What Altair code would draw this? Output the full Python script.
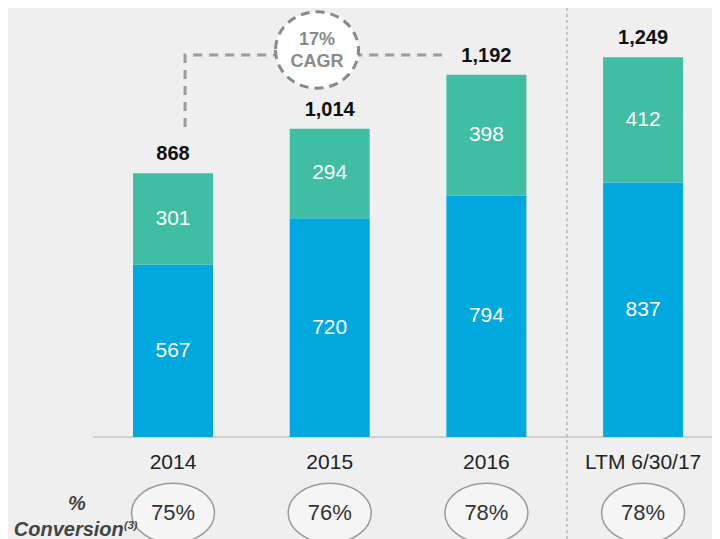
import altair as alt
import pandas as pd

# ---- data ----
categories = ["2014", "2015", "2016", "LTM 6/30/17"]
blue_vals = [567, 720, 794, 837]
teal_vals = [301, 294, 398, 412]
totals = [868, 1014, 1192, 1249]
conversion = ["75%", "76%", "78%", "78%"]
cagr_lines = ["17%", "CAGR"]

BLUE = "#00a8de"
TEAL = "#40bea4"
BG = "#efefef"
FONT = "Liberation Sans"

W, H = 704, 531
xs = alt.Scale(domain=[-1.053, 3.4397], nice=False, zero=False, padding=0)
ys = alt.Scale(domain=[-335.5, 1411.2], nice=False, zero=False, padding=0)

rows = []
for i, (c, b, t) in enumerate(zip(categories, blue_vals, teal_vals)):
    rows.append(dict(pos=i, cat=c, seg="blue", start=0, end=b, mid=b / 2, val=b))
    rows.append(dict(pos=i, cat=c, seg="teal", start=b, end=b + t, mid=b + t / 2, val=t))
bars_df = pd.DataFrame(rows)

cat_df = pd.DataFrame(dict(pos=list(range(len(categories))), cat=categories,
                           total=totals, conv=conversion))

X = alt.X("pos:Q", scale=xs, axis=None)

# annotation geometry (in data units)
base_df = pd.DataFrame(dict(x1=[-0.51], x2=[3.44], y0=[0]))
baseline = alt.Chart(base_df).mark_rule(color="#c4c4c4", strokeWidth=1.5).encode(
    x=alt.X("x1:Q", scale=xs, axis=None), x2="x2:Q", y=alt.Y("y0:Q", scale=ys, axis=None)
)

sep_df = pd.DataFrame(dict(sx=[2.514], sy1=[-335.5], sy2=[1411.2]))
separator = alt.Chart(sep_df).mark_rule(color="#a8a8a8", strokeWidth=1.2, strokeDash=[3, 3]).encode(
    x=alt.X("sx:Q", scale=xs, axis=None), y=alt.Y("sy1:Q", scale=ys, axis=None), y2="sy2:Q"
)

bracket_df = pd.DataFrame(dict(bx=[0.077, 0.077, 1.717], by=[1020, 1256.6, 1256.6], o=[0, 1, 2]))
bracket = alt.Chart(bracket_df).mark_line(color="#9a9a9a", strokeWidth=3, strokeDash=[9, 7]).encode(
    x=alt.X("bx:Q", scale=xs, axis=None), y=alt.Y("by:Q", scale=ys, axis=None), order="o:Q"
)

CIRCLE = "M -1 0 A 1 0.92 0 1 0 1 0 A 1 0.92 0 1 0 -1 0"
circ_df = pd.DataFrame(dict(cx=[0.919], cy=[1273]))
cagr_circle = alt.Chart(circ_df).mark_point(
    shape=CIRCLE, size=83 * 83, fill="white", stroke="#8a8a8a", strokeWidth=3,
    strokeDash=[9, 6], opacity=1, filled=False
).encode(x=alt.X("cx:Q", scale=xs, axis=None), y=alt.Y("cy:Q", scale=ys, axis=None))

cagr_df = pd.DataFrame(dict(txt=cagr_lines, tx=[0.919, 0.919], ty=[1305.9, 1233.6]))
cagr_text = alt.Chart(cagr_df).mark_text(
    font=FONT, fontSize=18, fontWeight="bold", color="#8a8a8a", baseline="middle"
).encode(x=alt.X("tx:Q", scale=xs, axis=None), y=alt.Y("ty:Q", scale=ys, axis=None), text="txt:N")

bars = alt.Chart(bars_df).mark_bar(size=80).encode(
    x=X,
    y=alt.Y("start:Q", scale=ys, axis=None),
    y2="end:Q",
    color=alt.Color("seg:N", scale=alt.Scale(domain=["blue", "teal"], range=[BLUE, TEAL]), legend=None),
)

seg_labels = alt.Chart(bars_df).mark_text(
    font=FONT, fontSize=21, color="white", baseline="middle"
).encode(x=X, y=alt.Y("mid:Q", scale=ys, axis=None), text="val:Q")

total_labels = alt.Chart(cat_df).mark_text(
    font=FONT, fontSize=20, fontWeight="bold", color="#111111", baseline="middle", dy=-19
).encode(x=X, y=alt.Y("total:Q", scale=ys, axis=None), text=alt.Text("total:Q", format=","))

cat_labels = alt.Chart(cat_df).transform_calculate(ly="-85.5").mark_text(
    font=FONT, fontSize=21, color="#222222", baseline="middle"
).encode(x=X, y=alt.Y("ly:Q", scale=ys, axis=None), text="cat:N")

ELLIPSE = "M -1 0 A 1 0.72 0 1 0 1 0 A 1 0.72 0 1 0 -1 0"
conv_ellipses = alt.Chart(cat_df).transform_calculate(ey="-250").mark_point(
    shape=ELLIPSE, size=83 * 83, fill="#f5f5f5", stroke="#9a9a9a", strokeWidth=1.5,
    opacity=1, filled=False
).encode(x=X, y=alt.Y("ey:Q", scale=ys, axis=None))

conv_text = alt.Chart(cat_df).transform_calculate(ey="-250").mark_text(
    font=FONT, fontSize=22, color="#333333", baseline="middle"
).encode(x=X, y=alt.Y("ey:Q", scale=ys, axis=None), text="conv:N")

lab_df = pd.DataFrame(dict(
    txt=["%", "Conversion", "(3)"],
    lx=[-0.613, -0.665, -0.27],
    ly=[-220.4, -305.9, -292.5],
    fs=[20, 20, 11],
))
conv_label = alt.Chart(lab_df).mark_text(
    font=FONT, fontWeight="bold", fontStyle="italic", color="#444444", baseline="middle"
).encode(
    x=alt.X("lx:Q", scale=xs, axis=None),
    y=alt.Y("ly:Q", scale=ys, axis=None),
    text="txt:N",
    size=alt.Size("fs:Q", scale=None, legend=None),
)

chart = alt.layer(
    baseline, separator, bracket, cagr_circle, cagr_text,
    bars, seg_labels, total_labels, cat_labels,
    conv_ellipses, conv_text, conv_label,
).properties(
    width=W, height=H, autosize=alt.AutoSizeParams(type="none"), padding=0, background=BG
).configure_view(stroke=None)

chart.save("out.html", embed_options={"renderer": "svg", "actions": False})
